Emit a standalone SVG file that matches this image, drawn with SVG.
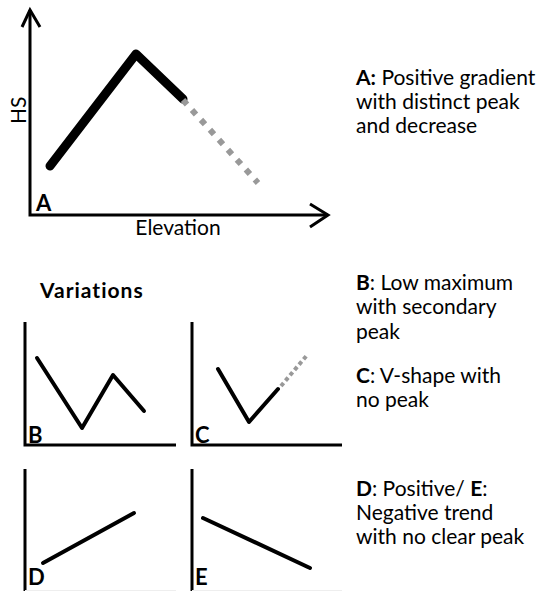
<svg xmlns="http://www.w3.org/2000/svg" width="541" height="591" viewBox="0 0 541 591">
<style>
.ax{stroke:#000;stroke-width:3;fill:none}
.ln{stroke:#000;fill:none;stroke-linecap:round;stroke-linejoin:round}
.dot{stroke:#999;fill:none}
.t{font-family:Lato,"Open Sans","Liberation Sans",sans-serif;font-size:21px;fill:#000}
.b{font-weight:bold}
.pl{font-family:Lato,"Open Sans","Liberation Sans",sans-serif;font-size:22px;font-weight:bold;fill:#000}
</style>
<rect width="541" height="591" fill="#fff"/>
<g id="panelA">
<path class="ax" d="M30,10 V215 H328"/>
<path class="ax" d="M22,27 L30,10 L40,27"/>
<path class="ax" d="M310,204 L328,215 L310,227"/>
<path class="ln" stroke-width="9" d="M50,166 L136,54 L183,99"/>
<path class="dot" stroke-width="6" stroke-dasharray="6 7.4" d="M183,100 L258,183"/>
<text class="pl" x="36" y="211">A</text>
<text class="t" x="0" y="0" transform="translate(26,124) rotate(-90)">HS</text>
<text class="t" x="178" y="235" text-anchor="middle">Elevation</text>
</g>
<g id="descA">
<text class="t" x="356" y="85"><tspan class="b">A:</tspan> Positive gradient</text>
<text class="t" x="356" y="109">with distinct peak</text>
<text class="t" x="356" y="133">and decrease</text>
</g>
<text id="variations" class="t b" x="40" y="298" font-size="24" letter-spacing="1">Variations</text>
<g id="panelB">
<path class="ax" d="M25,322 V445 H176"/>
<path class="ln" stroke-width="4" d="M37,358 L82,428 L113,375 L144,411"/>
<text class="pl" x="28" y="443">B</text>
</g>
<g id="panelC">
<path class="ax" d="M192,322 V445 H342"/>
<path class="ln" stroke-width="4" d="M218,369 L249,422 L278,389"/>
<path class="dot" stroke-width="4" stroke-dasharray="4 3" d="M281,386 L308,354"/>
<text class="pl" x="195" y="443">C</text>
</g>
<g id="descBC">
<text class="t" x="356" y="290"><tspan class="b">B</tspan>: Low maximum</text>
<text class="t" x="356" y="314">with secondary</text>
<text class="t" x="356" y="339">peak</text>
<text class="t" x="356" y="383"><tspan class="b">C</tspan>: V-shape with</text>
<text class="t" x="356" y="407">no peak</text>
</g>
<g id="panelD">
<path class="ax" d="M25,469 V591"/>
<path d="M25,590.5 H176" stroke="#eee" stroke-width="1"/>
<path class="ln" stroke-width="4" d="M43,563 L134,513"/>
<text class="pl" x="28" y="585">D</text>
</g>
<g id="panelE">
<path class="ax" d="M192,469 V591"/>
<path d="M192,590.5 H342" stroke="#eee" stroke-width="1"/>
<path class="ln" stroke-width="4" d="M203,518 L310,568"/>
<text class="pl" x="195" y="585">E</text>
</g>
<g id="descDE">
<text class="t" x="356" y="496"><tspan class="b">D</tspan>: Positive/ <tspan class="b">E</tspan>:</text>
<text class="t" x="356" y="520">Negative trend</text>
<text class="t" x="356" y="544">with no clear peak</text>
</g>
</svg>
